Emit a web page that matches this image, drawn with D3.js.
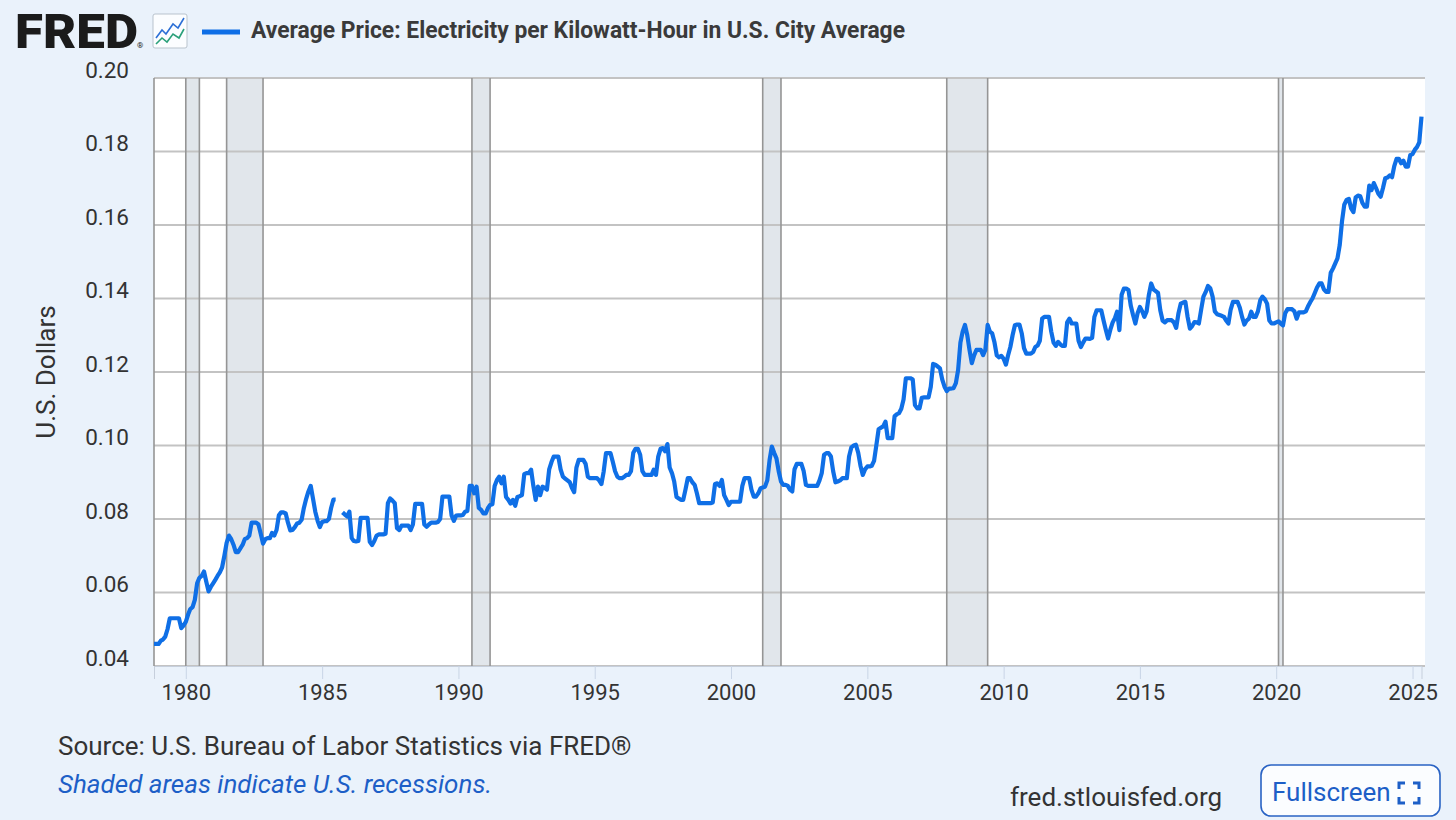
<!DOCTYPE html>
<html>
<head>
<meta charset="utf-8">
<script src="https://cdn.jsdelivr.net/npm/d3@7"></script>
<style>
  body { margin: 0; background: #eaf2fb; }
  svg { display: block; font-family: Roboto, "Noto Sans", sans-serif; }
</style>
</head>
<body>
<div class="canvas"></div>
<script>
// monthly average price, US city average ($ per kWh), one row per year
const years = [1978, 1979, 1980, 1981, 1982, 1983, 1984, 1985, 1986, 1987, 1988, 1989,
  1990, 1991, 1992, 1993, 1994, 1995, 1996, 1997, 1998, 1999, 2000, 2001, 2002, 2003,
  2004, 2005, 2006, 2007, 2008, 2009, 2010, 2011, 2012, 2013, 2014, 2015, 2016, 2017,
  2018, 2019, 2020, 2021, 2022, 2023, 2024, 2025];

const monthlyPrice = [
  [null, null, null, null, null, null, null, null, null, null, 0.046, 0.046],
  [0.046, 0.0469, 0.0472, 0.048, 0.050, 0.053, 0.053, 0.053, 0.053, 0.053, 0.0503, 0.051],
  [0.052, 0.054, 0.0555, 0.056, 0.058, 0.0625, 0.064, 0.0645, 0.0657, 0.063, 0.0603, 0.0615],
  [0.0625, 0.0635, 0.0645, 0.0655, 0.0668, 0.070, 0.0735, 0.0755, 0.0745, 0.073, 0.071, 0.071],
  [0.072, 0.073, 0.0745, 0.0748, 0.0755, 0.079, 0.079, 0.079, 0.0785, 0.076, 0.0733, 0.0745],
  [0.0748, 0.0748, 0.0762, 0.0755, 0.077, 0.081, 0.0818, 0.0818, 0.0815, 0.079, 0.0769, 0.077],
  [0.0778, 0.0788, 0.079, 0.0798, 0.083, 0.0855, 0.0875, 0.089, 0.0855, 0.082, 0.0795, 0.0778],
  [0.0792, 0.0794, 0.0794, 0.080, 0.083, 0.0853, 0.0853, null, null, 0.0818, 0.0812, 0.0807],
  [0.082, 0.0748, 0.074, 0.0739, 0.074, 0.0803, 0.0803, 0.0803, 0.0803, 0.0738, 0.0729, 0.074],
  [0.0755, 0.0758, 0.0758, 0.0758, 0.076, 0.0843, 0.0856, 0.085, 0.0843, 0.0775, 0.077, 0.0782],
  [0.0782, 0.0782, 0.0782, 0.077, 0.0785, 0.0841, 0.0841, 0.0841, 0.0841, 0.0785, 0.0779, 0.0785],
  [0.079, 0.079, 0.079, 0.0792, 0.080, 0.0861, 0.0861, 0.0861, 0.0861, 0.081, 0.0795, 0.0809],
  [0.081, 0.081, 0.0811, 0.082, 0.0822, 0.089, 0.089, 0.087, 0.0888, 0.083, 0.0825, 0.0815],
  [0.0815, 0.083, 0.0838, 0.084, 0.089, 0.0906, 0.0915, 0.0897, 0.0915, 0.086, 0.0852, 0.0842],
  [0.0852, 0.0836, 0.086, 0.0862, 0.0865, 0.0922, 0.0925, 0.0925, 0.0934, 0.089, 0.0852, 0.0888],
  [0.0865, 0.0888, 0.0885, 0.088, 0.0935, 0.0955, 0.097, 0.097, 0.097, 0.0935, 0.0915, 0.091],
  [0.0905, 0.090, 0.0885, 0.0873, 0.094, 0.0961, 0.0961, 0.0961, 0.095, 0.0915, 0.0911, 0.0911],
  [0.0911, 0.0911, 0.0905, 0.0895, 0.0929, 0.0979, 0.0979, 0.0979, 0.0955, 0.093, 0.0915, 0.0911],
  [0.0911, 0.0915, 0.092, 0.092, 0.093, 0.098, 0.0991, 0.0991, 0.0975, 0.093, 0.092, 0.092],
  [0.092, 0.092, 0.0934, 0.092, 0.097, 0.0991, 0.0993, 0.0984, 0.1004, 0.094, 0.0925, 0.0902],
  [0.086, 0.0856, 0.0852, 0.0852, 0.088, 0.0911, 0.0911, 0.090, 0.0893, 0.087, 0.0843, 0.0843],
  [0.0843, 0.0843, 0.0843, 0.0843, 0.0845, 0.0895, 0.0897, 0.089, 0.0906, 0.0865, 0.0852, 0.0838],
  [0.0847, 0.0847, 0.0847, 0.0847, 0.0847, 0.089, 0.0911, 0.0911, 0.0911, 0.088, 0.0861, 0.0861],
  [0.087, 0.0884, 0.0886, 0.0888, 0.0905, 0.096, 0.0997, 0.098, 0.0965, 0.093, 0.0902, 0.0893],
  [0.0893, 0.089, 0.088, 0.0875, 0.0935, 0.095, 0.095, 0.095, 0.093, 0.0893, 0.089, 0.089],
  [0.089, 0.089, 0.089, 0.0905, 0.0925, 0.0975, 0.0979, 0.0979, 0.097, 0.093, 0.090, 0.0902],
  [0.0905, 0.0911, 0.0911, 0.0911, 0.097, 0.0995, 0.100, 0.1002, 0.098, 0.0945, 0.092, 0.0935],
  [0.0943, 0.0943, 0.0945, 0.0958, 0.100, 0.1044, 0.1048, 0.1052, 0.1065, 0.102, 0.102, 0.102],
  [0.108, 0.1085, 0.1088, 0.110, 0.1125, 0.1183, 0.1183, 0.1183, 0.118, 0.111, 0.1101, 0.1101],
  [0.113, 0.1131, 0.1131, 0.1131, 0.116, 0.1222, 0.122, 0.1215, 0.121, 0.118, 0.116, 0.1148],
  [0.1155, 0.1155, 0.1156, 0.117, 0.1205, 0.128, 0.131, 0.1328, 0.130, 0.126, 0.1224, 0.1245],
  [0.126, 0.126, 0.126, 0.1246, 0.126, 0.1328, 0.131, 0.1305, 0.128, 0.1245, 0.124, 0.1244],
  [0.1236, 0.122, 0.1245, 0.1268, 0.130, 0.1327, 0.1329, 0.1329, 0.1305, 0.1265, 0.125, 0.125],
  [0.125, 0.1255, 0.1268, 0.1272, 0.1285, 0.1345, 0.135, 0.135, 0.135, 0.131, 0.128, 0.1271],
  [0.1282, 0.1275, 0.1271, 0.1271, 0.1335, 0.1345, 0.1332, 0.1332, 0.1332, 0.1285, 0.1268, 0.128],
  [0.1291, 0.1291, 0.129, 0.1293, 0.135, 0.1368, 0.1368, 0.1368, 0.134, 0.1315, 0.1291, 0.1315],
  [0.1335, 0.1347, 0.1364, 0.1314, 0.141, 0.1427, 0.1427, 0.1423, 0.138, 0.1355, 0.1332, 0.136],
  [0.1377, 0.1365, 0.135, 0.1365, 0.141, 0.1441, 0.1425, 0.142, 0.1415, 0.1368, 0.134, 0.1335],
  [0.1341, 0.1341, 0.1341, 0.1335, 0.132, 0.136, 0.1386, 0.1389, 0.1391, 0.135, 0.1318, 0.1325],
  [0.1336, 0.1335, 0.1332, 0.137, 0.1405, 0.1418, 0.1434, 0.1428, 0.1405, 0.1365, 0.1357, 0.1355],
  [0.1353, 0.135, 0.134, 0.1332, 0.137, 0.1391, 0.1391, 0.1391, 0.1375, 0.135, 0.1329, 0.134],
  [0.1345, 0.1364, 0.135, 0.135, 0.1365, 0.1395, 0.1405, 0.1398, 0.1386, 0.134, 0.1332, 0.1332],
  [0.1335, 0.1338, 0.1332, 0.1327, 0.136, 0.1371, 0.1371, 0.1371, 0.1365, 0.1345, 0.1362, 0.1362],
  [0.1362, 0.1365, 0.1378, 0.139, 0.140, 0.1415, 0.143, 0.1441, 0.1441, 0.1425, 0.1418, 0.1418],
  [0.147, 0.1482, 0.1495, 0.1509, 0.1545, 0.161, 0.1655, 0.1668, 0.1671, 0.1645, 0.1635, 0.1675],
  [0.168, 0.1678, 0.166, 0.165, 0.165, 0.1707, 0.1695, 0.1714, 0.170, 0.1685, 0.1677, 0.170],
  [0.1727, 0.1729, 0.1735, 0.173, 0.176, 0.178, 0.178, 0.1768, 0.1775, 0.1759, 0.1759, 0.179],
  [0.1793, 0.1805, 0.1812, 0.1825, 0.1895]
];

const recessions = [
  ['1980-01-01', '1980-07-01'],
  ['1981-07-01', '1982-11-01'],
  ['1990-07-01', '1991-03-01'],
  ['2001-03-01', '2001-11-01'],
  ['2007-12-01', '2009-06-01'],
  ['2020-02-01', '2020-04-01']
];

const yTicks = [0.04, 0.06, 0.08, 0.10, 0.12, 0.14, 0.16, 0.18, 0.20];
const xTickYears = [1980, 1985, 1990, 1995, 2000, 2005, 2010, 2015, 2020, 2025];

const title = 'Average Price: Electricity per Kilowatt-Hour in U.S. City Average';
const blue = '#0f6fe6';

// flatten rows into monthly points, dropping the padding before the first month
let points = [];
years.forEach((yr, r) => {
  monthlyPrice[r].forEach((v, m) => points.push({ date: new Date(yr, m, 1), value: v }));
});
const firstIdx = points.findIndex(d => d.value !== null);
points = points.slice(firstIdx);

const plot = { left: 154, right: 1425, top: 78, bottom: 666 };

const svg = d3.select('.canvas').append('svg')
    .attr('width', 1456)
    .attr('height', 820);

const x = d3.scaleTime()
    .domain(d3.extent(points.filter(d => d.value !== null), d => d.date))
    .range([plot.left, 1421.5]);

const y = d3.scaleLinear()
    .domain([0.04, 0.20])
    .range([plot.bottom, plot.top]);

// header: logo, icon, legend
svg.append('text')
    .attr('x', 15).attr('y', 48)
    .attr('font-size', 49).attr('font-weight', 900)
    .attr('fill', '#1b1b1b')
    .attr('textLength', 123).attr('lengthAdjust', 'spacingAndGlyphs')
    .text('FRED');
svg.append('text')
    .attr('x', 137).attr('y', 48)
    .attr('font-size', 8).attr('fill', '#1b1b1b')
    .text('®');

const icon = svg.append('g').attr('transform', 'translate(153, 14)');
icon.append('rect')
    .attr('width', 34).attr('height', 34).attr('rx', 2)
    .attr('fill', '#fbfdff').attr('stroke', '#b9c3cd');
icon.append('polyline')
    .attr('points', '3,24 9,16 13,20 20,10 25,14 31,4')
    .attr('fill', 'none').attr('stroke', '#2b6fd6').attr('stroke-width', 1.6);
icon.append('polyline')
    .attr('points', '3,30 9,24 14,28 20,20 26,24 31,15')
    .attr('fill', 'none').attr('stroke', '#2aa07a').attr('stroke-width', 1.6);

svg.append('line')
    .attr('x1', 202).attr('x2', 240)
    .attr('y1', 32).attr('y2', 32)
    .attr('stroke', blue).attr('stroke-width', 5);
svg.append('text')
    .attr('x', 251).attr('y', 38)
    .attr('font-size', 23).attr('font-weight', 700)
    .attr('fill', '#3a3a3a')
    .attr('textLength', 654).attr('lengthAdjust', 'spacingAndGlyphs')
    .text(title);

// plot background
svg.append('rect')
    .attr('x', plot.left).attr('y', plot.top)
    .attr('width', plot.right - plot.left)
    .attr('height', plot.bottom - plot.top)
    .attr('fill', '#ffffff');

// recession shading
svg.append('g')
    .selectAll('rect')
    .data(recessions)
    .join('rect')
    .attr('x', d => x(new Date(d[0])))
    .attr('width', d => x(new Date(d[1])) - x(new Date(d[0])))
    .attr('y', plot.top)
    .attr('height', plot.bottom - plot.top)
    .attr('fill', '#e1e6eb');

// horizontal grid
svg.append('g')
    .selectAll('line')
    .data(yTicks)
    .join('line')
    .attr('x1', plot.left).attr('x2', plot.right)
    .attr('y1', d => y(d)).attr('y2', d => y(d))
    .attr('stroke', '#c3c3c3').attr('stroke-width', 2);

// recession edges
svg.append('g')
    .selectAll('line')
    .data(recessions.flat())
    .join('line')
    .attr('x1', d => x(new Date(d))).attr('x2', d => x(new Date(d)))
    .attr('y1', plot.top).attr('y2', plot.bottom)
    .attr('stroke', '#959595').attr('stroke-width', 1.6);

// left border
svg.append('line')
    .attr('x1', plot.left).attr('x2', plot.left)
    .attr('y1', plot.top).attr('y2', plot.bottom)
    .attr('stroke', '#959595').attr('stroke-width', 1.6);

// y axis labels sit just above their grid lines
const yAxis = svg.append('g')
    .attr('transform', `translate(${plot.left}, 0)`)
    .call(d3.axisLeft(y).tickValues(yTicks).tickFormat(d3.format('.2f')).tickSize(0).tickPadding(25));
yAxis.select('.domain').remove();
yAxis.selectAll('text')
    .attr('font-size', 22.5)
    .attr('font-family', 'Roboto')
    .attr('fill', '#333')
    .attr('dy', '-0.03em');

// x axis
const xAxis = svg.append('g')
    .attr('transform', `translate(0, ${plot.bottom})`)
    .call(d3.axisBottom(x)
      .tickValues(xTickYears.map(yr => new Date(yr, 0, 1)))
      .tickFormat(d3.timeFormat('%Y'))
      .tickSize(13).tickPadding(5));
xAxis.select('.domain')
    .attr('stroke', '#c6cfdc');
xAxis.selectAll('.tick line')
    .attr('stroke', '#c9d5e6');
xAxis.selectAll('text')
    .attr('font-size', 22)
    .attr('font-family', 'Roboto')
    .attr('fill', '#333');

svg.append('text')
    .attr('transform', 'translate(55, 372) rotate(-90)')
    .attr('text-anchor', 'middle')
    .attr('font-size', 26)
    .attr('fill', '#333')
    .text('U.S. Dollars');

// series line
const line = d3.line()
    .defined(d => d.value !== null)
    .x(d => x(d.date))
    .y(d => y(d.value));

svg.append('path')
    .datum(points)
    .attr('d', line)
    .attr('fill', 'none')
    .attr('stroke', blue)
    .attr('stroke-width', 4.2)
    .attr('stroke-linejoin', 'round');

// footer
svg.append('text')
    .attr('x', 58).attr('y', 755)
    .attr('font-size', 26).attr('fill', '#333')
    .text('Source: U.S. Bureau of Labor Statistics via FRED®');
svg.append('text')
    .attr('x', 58).attr('y', 793)
    .attr('font-size', 26).attr('font-style', 'italic')
    .attr('fill', '#1d5fc7')
    .text('Shaded areas indicate U.S. recessions.');
svg.append('text')
    .attr('x', 1010).attr('y', 806)
    .attr('font-size', 26).attr('fill', '#333')
    .text('fred.stlouisfed.org');

const btn = svg.append('g').attr('transform', 'translate(1261, 765)');
btn.append('rect')
    .attr('width', 179).attr('height', 51).attr('rx', 10)
    .attr('fill', '#fbfdff').attr('stroke', '#2a63c4').attr('stroke-width', 1.6);
btn.append('text')
    .attr('x', 11).attr('y', 36)
    .attr('font-size', 26).attr('fill', '#1d5fc7')
    .text('Fullscreen');
btn.append('path')
    .attr('d', 'M138,24 v-6 h6 M152,18 h6 v6 M158,32 v6 h-6 M144,38 h-6 v-6')
    .attr('fill', 'none').attr('stroke', '#1d5fc7').attr('stroke-width', 3);
</script>
</body>
</html>
